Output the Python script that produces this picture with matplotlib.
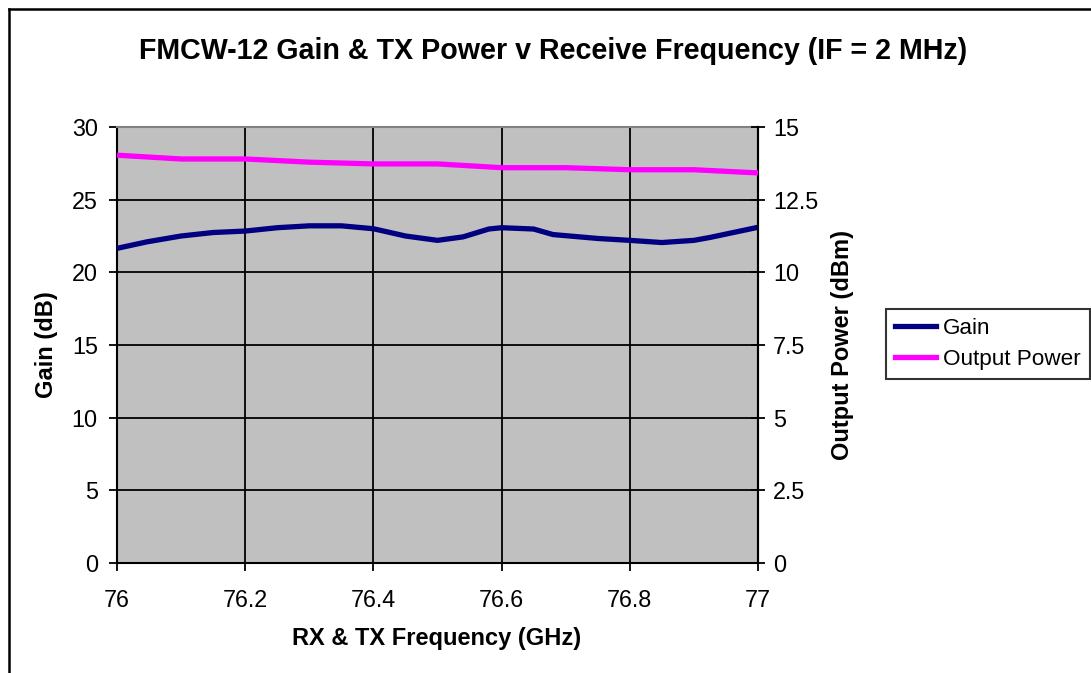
import matplotlib
matplotlib.use('Agg')
import matplotlib.pyplot as plt
from matplotlib.lines import Line2D

plt.rcParams['font.family'] = ['Liberation Sans', 'DejaVu Sans']

# data
freq_gain = [76.0, 76.047, 76.1, 76.15, 76.2, 76.25, 76.3, 76.35, 76.4, 76.45, 76.5,
             76.54, 76.58, 76.6, 76.65, 76.68, 76.75, 76.8, 76.85, 76.9, 76.925, 77.0]
gain = [21.65, 22.1, 22.5, 22.74, 22.84, 23.07, 23.2, 23.2, 23.0, 22.5, 22.2,
        22.44, 22.98, 23.07, 22.98, 22.6, 22.33, 22.2, 22.05, 22.2, 22.4, 23.1]
freq_pwr = [76.0, 76.1, 76.2, 76.3, 76.4, 76.5, 76.6, 76.7, 76.8, 76.9, 77.0]
out_power = [14.03, 13.9, 13.9, 13.79, 13.73, 13.73, 13.6, 13.6, 13.53, 13.53, 13.42]
x_ticks = [76, 76.2, 76.4, 76.6, 76.8, 77]
gain_ticks = [0, 5, 10, 15, 20, 25, 30]
pwr_ticks = [0, 2.5, 5, 7.5, 10, 12.5, 15]

fig = plt.figure(figsize=(10.91, 6.73), dpi=100)
ax = fig.add_axes([117/1091, 1 - 563/673, 641/1091, 436/673])
ax.set_facecolor('#C0C0C0')

ax.plot(freq_gain, gain, color='#000080', lw=3.8, solid_capstyle='butt',
        solid_joinstyle='round', zorder=3)
ax.set_xlim(76, 77)
ax.set_ylim(0, 30)
ax.set_xticks(x_ticks)
ax.set_xticklabels(['76', '76.2', '76.4', '76.6', '76.8', '77'])
ax.set_yticks(gain_ticks)
ax.grid(True, color='black', lw=1.3)
ax.tick_params(axis='both', direction='out', length=5.8, width=1.3, labelsize=16.8)
ax.tick_params(axis='x', pad=13)
ax.tick_params(axis='y', pad=8)
for s in ax.spines.values():
    s.set_color('black')
    s.set_linewidth(1.5)
ax.spines['top'].set_color('#808080')

ax2 = ax.twinx()
ax2.plot(freq_pwr, out_power, color='#FF00FF', lw=3.8, solid_capstyle='butt',
         solid_joinstyle='round', zorder=3)
ax2.set_ylim(0, 15)
ax2.set_yticks(pwr_ticks)
ax2.set_yticklabels(['0', '2.5', '5', '7.5', '10', '12.5', '15'])
ax2.tick_params(axis='y', direction='inout', length=9.4, width=1.3, labelsize=16.8, pad=6)
for s in ax2.spines.values():
    s.set_visible(False)
ax2.spines['right'].set_visible(True)
ax2.spines['right'].set_linewidth(1.5)

fig.text(553/1091, 1 - 51/673, 'FMCW-12 Gain & TX Power v Receive Frequency (IF = 2 MHz)',
         ha='center', va='center', fontsize=20.6, fontweight='bold')
fig.text(437/1091, 1 - 639/673, 'RX & TX Frequency (GHz)', ha='center', va='center',
         fontsize=17, fontweight='bold')
fig.text(47/1091, 1 - 345/673, 'Gain (dB)', ha='center', va='center', rotation=90,
         fontsize=17, fontweight='bold')
fig.text(843/1091, 1 - 345/673, 'Output Power (dBm)', ha='center', va='center', rotation=90,
         fontsize=17, fontweight='bold')

handles = [Line2D([], [], color='#000080', lw=3.8), Line2D([], [], color='#FF00FF', lw=3.8)]
leg = fig.legend(handles, ['Gain', 'Output Power'], loc='center left',
                 bbox_to_anchor=(886/1091, 1 - 344/673), fontsize=16.2, frameon=True,
                 fancybox=False, edgecolor='black', handlelength=1.8, handletextpad=0.35,
                 borderpad=0.4, labelspacing=0.45, borderaxespad=0)
leg.get_frame().set_linewidth(1.5)

# outer chart border (top and left only visible)
fig.add_artist(Line2D([9/1091, 1], [1 - 9/673, 1 - 9/673], color='black', lw=1.8))
fig.add_artist(Line2D([9/1091, 9/1091], [0, 1 - 9/673], color='black', lw=1.8))

fig.savefig('out.png', dpi=100)
